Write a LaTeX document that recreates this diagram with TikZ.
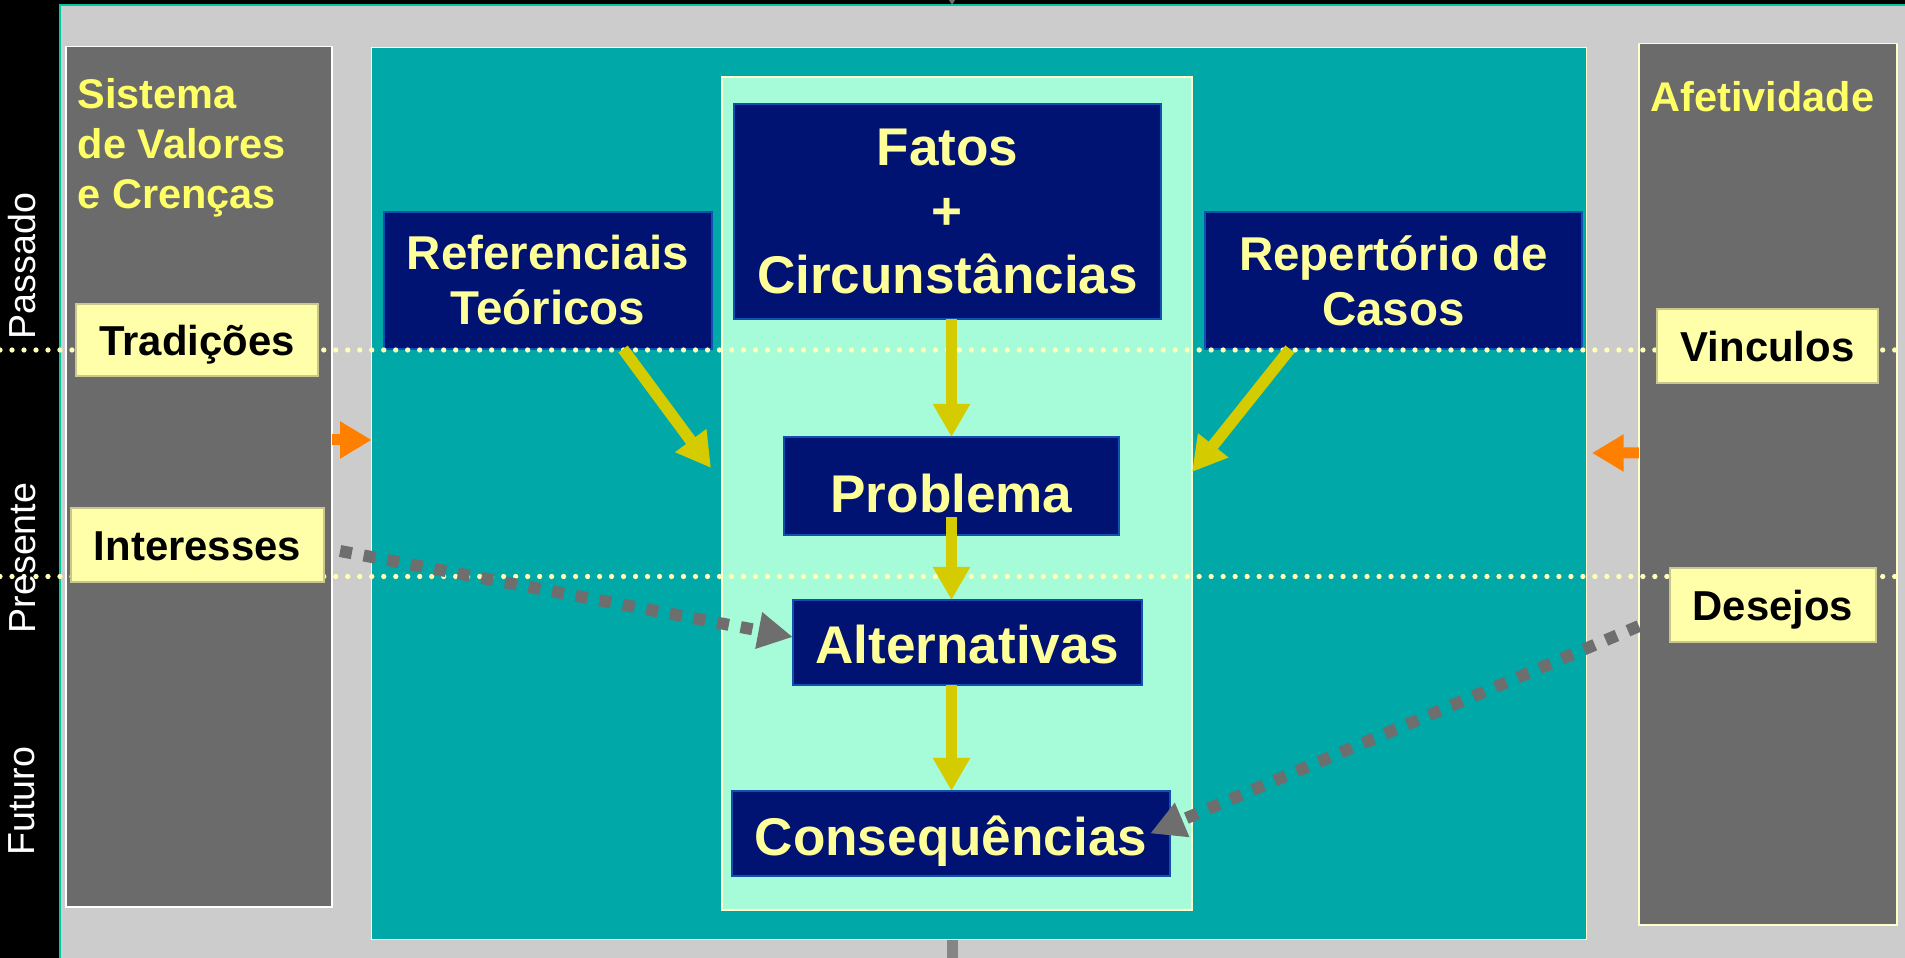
\documentclass[tikz,border=0pt]{standalone}
\usepackage{fontspec}
\setmainfont{Liberation Sans}
\usetikzlibrary{arrows.meta}
\definecolor{bggray}{HTML}{CCCCCC}
\definecolor{panelgray}{HTML}{6B6B6B}
\definecolor{tealc}{HTML}{00A8A8}
\definecolor{mint}{HTML}{A6FCD8}
\definecolor{navy}{HTML}{001272}
\definecolor{navyedge}{HTML}{1050B0}
\definecolor{paleyel}{HTML}{FFFF99}
\definecolor{brightyel}{HTML}{FFFF66}
\definecolor{labelyel}{HTML}{FFFFAA}
\definecolor{labeledge}{HTML}{C8C88C}
\definecolor{arrowyel}{HTML}{D4CC00}
\definecolor{orangec}{HTML}{FF7F00}
\definecolor{dashgray}{HTML}{6E6E6E}
\definecolor{stubgray}{HTML}{858585}
\definecolor{dotc}{HTML}{FFFFB8}
\definecolor{edgeline}{HTML}{00C8A0}
\definecolor{paneledge}{HTML}{FFFFCC}
\begin{document}
\begin{tikzpicture}[x=0.01cm,y=-0.01cm,
  panel/.style={draw=paneledge, line width=0.43pt, inner sep=0pt, outer sep=0pt},
  navybox/.style={draw=navyedge, fill=navy, line width=0.5pt, inner sep=0pt, outer sep=0pt, text=paleyel, align=center},
  bigtxt/.style={font=\bfseries\fontsize{15.1}{18.07}\selectfont},
  midtxt/.style={font=\bfseries\fontsize{13.5}{15.65}\selectfont},
  labelbox/.style={draw=labeledge, fill=labelyel, line width=0.43pt, inner sep=0pt, outer sep=0pt, text=black, font=\bfseries\fontsize{11.9}{14}\selectfont, text height=9.1pt, text depth=0pt},
  timetxt/.style={text=white, font=\fontsize{10.7}{12}\selectfont, rotate=90, inner sep=0pt},
  headtxt/.style={text=brightyel, font=\bfseries\fontsize{11.8}{14.2}\selectfont, inner sep=0pt},
  yarrow/.style={draw=arrowyel, line width=3.13pt, -{Triangle[length=9.4pt,width=10pt]}},
  ydiag/.style={draw=arrowyel, line width=3.3pt, -{Triangle[length=9.7pt,width=10.4pt]}},
  oarrow/.style={draw=orangec, line width=3.13pt, -{Triangle[length=9pt,width=10pt]}},
  garrow/.style={draw=dashgray, line width=3.41pt, dash pattern=on 3.41pt off 3.41pt, -{Triangle[length=9.9pt,width=9.9pt]}},
  dotline/.style={draw=dotc, line width=1.5pt, line cap=round, dash pattern=on 0pt off 3.41pt}
]
\useasboundingbox (0,0) rectangle (1905,958);
% background
\fill[black] (0,0) rectangle (1905,958);
\fill[bggray] (60,5) rectangle (1905,958);
\draw[edgeline, line width=0.5pt] (60,958) -- (60,5) -- (1905,5);
\fill[dashgray] (949,0) -- (955,0) -- (952,5) -- cycle;
\fill[stubgray] (947,940) rectangle (958,958);

% panels
\node[panel, draw=white, fill=panelgray, minimum width=2.66cm, minimum height=8.60cm] (leftpanel) at (199,477) {};
\node[panel, fill=panelgray, minimum width=2.58cm, minimum height=8.81cm] (rightpanel) at (1768,484.5) {};
\node[panel, fill=tealc, minimum width=12.14cm, minimum height=8.91cm] (teal) at (979,493.5) {};
\node[panel, fill=mint, minimum width=4.70cm, minimum height=8.33cm] (green) at (957,493.5) {};

% headings
\node[headtxt, align=left, anchor=north west] (sistema) at (77,78) {Sistema\\de Valores\\e Crenças};
\node[headtxt, anchor=base west] (afet) at (1650,112) {Afetividade};

% navy boxes
\node[navybox, bigtxt, minimum width=4.27cm, minimum height=2.15cm] (fatos) at (947.5,211.5) {Fatos\\+\\Circunstâncias};
\node[navybox, midtxt, minimum width=3.28cm, minimum height=1.37cm] (ref) at (548,280.5) {Referenciais\\Teóricos};
\node[navybox, midtxt, minimum width=3.77cm, minimum height=1.37cm] (rep) at (1393.5,280.5) {Repertório de\\Casos};
\node[navybox, bigtxt, text height=14.8pt, text depth=0pt, minimum width=3.35cm, minimum height=0.98cm] (prob) at (951.5,486) {Problema};
\node[navybox, bigtxt, text height=12.2pt, text depth=0pt, minimum width=3.49cm, minimum height=0.85cm] (alt) at (967.5,642.5) {Alternativas};
\node[navybox, bigtxt, text height=12.5pt, text depth=0pt, minimum width=4.38cm, minimum height=0.85cm] (cons) at (951,833.5) {Consequências};

% dotted time lines
\draw[dotline] (0,350) -- (1905,350);
\draw[dotline] (0,576.5) -- (1905,576.5);

% label boxes
\node[labelbox, minimum width=2.42cm, minimum height=0.72cm] (trad) at (197,340) {Tradições};
\node[labelbox, minimum width=2.53cm, minimum height=0.74cm] (inter) at (197.5,545) {Interesses};
\node[labelbox, minimum width=2.21cm, minimum height=0.74cm] (vinc) at (1767.5,346) {Vinculos};
\node[labelbox, minimum width=2.06cm, minimum height=0.74cm] (desej) at (1773,605) {Desejos};

% time labels
\node[timetxt] (passado) at (22,266) {Passado};
\node[timetxt] (presente) at (22.5,558) {Presente};
\node[timetxt] (futuro) at (22,801) {Futuro};

% yellow arrows
\draw[yarrow] (prob.north |- fatos.south) -- (prob.north);
\draw[yarrow] ([yshift=0.18cm]prob.south) -- (prob.south |- alt.north);
\draw[yarrow] (prob.south |- alt.south) -- (prob.south |- cons.north);
\coordinate (refTip) at (711,468);
\coordinate (repTip) at (1192,472);
\draw[ydiag] ([xshift=0.75cm]ref.south) -- (refTip);
\draw[ydiag] ([xshift=-1.035cm]rep.south) -- (repTip);

% orange arrows
\draw[oarrow] ([yshift=0.37cm]leftpanel.east) -- ([yshift=0.37cm]leftpanel.east -| teal.west);
\coordinate (oTip) at (1592,453);
\draw[oarrow] ([yshift=0.315cm]rightpanel.west) -- (oTip);

% gray dashed arrows
\draw[garrow] ([xshift=0.16cm,yshift=-0.06cm]inter.east) -- ([yshift=0.055cm]alt.west);
\draw[garrow] ([yshift=-1.415cm]rightpanel.west) -- ([xshift=-0.2cm]cons.east);
\end{tikzpicture}
\end{document}
